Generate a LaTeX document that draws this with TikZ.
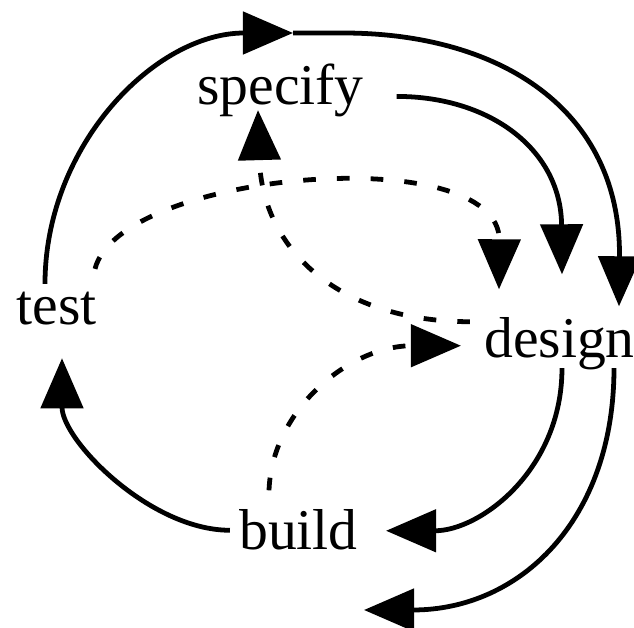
\documentclass[tikz,border=0pt]{standalone}
\usepackage{fontspec}
\setmainfont{Liberation Serif}
\usetikzlibrary{calc}
\usetikzlibrary{arrows.meta}

\begin{document}
\begin{tikzpicture}[x=0.025cm, y=-0.025cm]
\tikzstyle{stage}=[inner sep=0pt, anchor=base, font=\fontsize{41}{49}\selectfont]
\tikzstyle{flow}=[-{Triangle[length=1.25cm, width=1.05cm]}, line width=3.4pt]
\tikzstyle{feedback}=[flow, dash pattern=on 9pt off 15pt]

\useasboundingbox (0,0) rectangle (634,628);

\path (56.5,325) node[stage](test) {test}
      (280.5,105) node[stage](specify) {specify}
      (559.5,358) node[stage](design) {design}
      (298.5,550) node[stage](build) {build}
      (293,33) coordinate (top)
      (364,610) coordinate (out);

\draw[flow] ($(test.north)+(-11.5,-8.4)$) to[out=90, in=180] (top);
\draw[flow] (top) -- ++(50,0) .. controls +(157,0) and +(2,-197) .. ($(design.north)+(59.5,-11.4)$);
\draw[flow] ($(specify.east)+(32.7,5.5)$) .. controls +(93,0) and +(-1,-125) .. ($(design.north)+(2.5,-43.4)$);
\draw[feedback] ($(test.north east)+(-1.8,-23.4)$) .. controls +(25,-98) and +(1,-150) .. ($(design.north)+(-60.5,-28.4)$);
\draw[feedback] ($(design.west)+(-14,-22.5)$) .. controls +(-130,0) and +(4,140) .. ($(specify.south)+(-22.5,-7.6)$);
\draw[flow] ($(design.south)+(2.5,-2.6)$) .. controls +(0,102) and +(94,0) .. ($(build.east)+(28,0.5)$);
\draw[flow] ($(design.south)+(54.5,-2.6)$) .. controls +(0,152) and +(156,0) .. (out);
\draw[flow] ($(build.west)+(-9,0)$) .. controls +(-80,0) and +(0,82) .. ($(test.south)+(5.5,32.4)$);
\draw[feedback] ($(build.north)+(-29.5,-19.4)$) .. controls +(3,-81) and +(-111,0) .. ($(design.west)+(-23,1.5)$);

\end{tikzpicture}
\end{document}
